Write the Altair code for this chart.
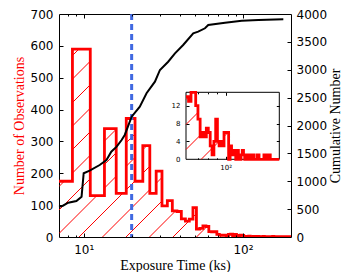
import numpy as np
import pandas as pd
import altair as alt

# ---------------- data ----------------
BIN_START = 6.0          # main histogram: bins of 2.5 ks
BIN_WIDTH = 2.5
COUNTS = [175, 590, 130, 340, 137, 372, 175, 287, 137, 207, 98, 114, 82, 80,
          57, 50, 56, 92, 25, 27, 35, 33, 17, 16, 17, 8, 6, 5, 6, 4, 8, 9, 4,
          8, 5, 3, 6, 5,
          2, 1, 2, 3, 1, 1, 2, 0, 1, 2, 1, 1, 0, 2, 1, 1, 0, 1, 1, 0, 1, 2,
          0, 1, 1, 0, 1, 0, 1, 1, 0, 1, 0, 0, 1, 1, 0, 1, 0, 1]

INSET_BIN_START = 60.0   # inset histogram: bins of 2 ks
INSET_BIN_WIDTH = 2.0
INSET_COUNTS = [14, 13, 15, 15, 12, 9, 5, 6, 5, 7, 6, 3, 1, 4, 9, 4, 3, 4, 3,
                6, 6, 6, 0, 3, 1, 2, 1, 0, 2, 1, 0, 1, 2, 1, 0, 1, 0, 1, 1, 0,
                0, 1, 0, 0, 0, 1, 1, 0, 0, 0, 0, 0, 1, 0, 1, 1, 1, 0, 1, 0, 0,
                0, 0, 0, 0, 0, 0, 0, 0, 0]

CUM_EXPOSURE = [7.0, 7.4, 8.0, 9.0, 9.7, 10.0, 10.9, 12.6, 13.9, 14.9, 16.1,
                17.3, 18.1, 20.0, 22.5, 24.8, 28.0, 30.1, 33.9, 37.4, 42.1,
                48.7, 52.3, 57.7, 60.5, 77.1, 98.2, 124.8, 179.0]
CUM_NUMBER = [543, 561, 615, 646, 723, 1143, 1189, 1291, 1381, 1530, 1620,
              1740, 1830, 2158, 2337, 2578, 2786, 2996, 3144, 3295, 3444,
              3654, 3683, 3744, 3803, 3844, 3880, 3892, 3905]

THRESHOLD_KS = [20]

X_MAJOR = [10, 100]
X_MINOR = [8, 9, 20, 30, 40, 50, 60, 70, 80, 90]
Y_TICKS = [0, 100, 200, 300, 400, 500, 600, 700]
CUM_TICKS = [0, 500, 1000, 1500, 2000, 2500, 3000, 3500, 4000]
INSET_Y_TICKS = [0, 4, 8, 12]
INSET_X_MAJOR = [100]
INSET_X_MINOR = [70, 80, 90]

# ---------------- layout / style ----------------
RED = "#ff0000"
BLUE = "#4169e1"
W, H = 232, 223
XDOM = [7, 200]
YDOM = [0, 700]
CDOM = [0, 4000]
IN_XDOM = [60, 200]
IN_YDOM = [0, 15]
IN_U = [127.0, 220.3]   # inset left/right (px within plot)
IN_V = [78.3, 145.3]    # inset top/bottom (px within plot)
MAJ, MIN = 4, 2

edges = [BIN_START + BIN_WIDTH * i for i in range(len(COUNTS) + 1)]
in_edges = [INSET_BIN_START + INSET_BIN_WIDTH * i for i in range(len(INSET_COUNTS) + 1)]


def step_df(e, c, cap=None):
    ys = list(c) + [c[-1]]
    if cap is not None:
        ys = [min(v, cap) for v in ys]
    return pd.DataFrame({"x": e, "y": ys})


def hatch(e, c, xdom, ydom, urange, vrange, spacing, phase):
    """Diagonal hatch lines clipped to the area under the step outline.
    Pieces of one hatch line in adjacent bars are merged into one segment."""
    lx0, lx1 = np.log10(xdom[0]), np.log10(xdom[1])
    vt0, vb = vrange

    def u_of(x):
        return urange[0] + (np.log10(x) - lx0) / (lx1 - lx0) * (urange[1] - urange[0])

    def x_of(u):
        return round(float(10 ** (lx0 + (u - urange[0]) / (urange[1] - urange[0]) * (lx1 - lx0))), 5)

    def v_of(y):
        return vb - (y - ydom[0]) / (ydom[1] - ydom[0]) * (vb - vt0)

    def y_of(v):
        return round(max(float(ydom[0] + (vb - v) / (vb - vt0) * (ydom[1] - ydom[0])), ydom[0]), 5)

    pieces = {}
    for e0, e1, cnt in zip(e[:-1], e[1:], c):
        if cnt <= 0:
            continue
        u0 = max(u_of(e0), urange[0])
        u1 = min(u_of(e1), urange[1])
        if u1 <= u0:
            continue
        vt = max(v_of(min(cnt, ydom[1])), vt0)
        k0 = int(np.ceil((u0 + vt - phase) / spacing))
        k1 = int(np.floor((u1 + vb - phase) / spacing))
        for k in range(k0, k1 + 1):
            cc = phase + k * spacing
            ua = max(u0, cc - vb)
            ub = min(u1, cc - vt)
            if ub - ua > 0.05:
                pieces.setdefault(k, []).append([ua, ub])

    rows = []
    for k, segs in pieces.items():
        cc = phase + k * spacing
        segs.sort()
        merged = [segs[0]]
        for a, b in segs[1:]:
            if a - merged[-1][1] < 1e-6:
                merged[-1][1] = max(merged[-1][1], b)
            else:
                merged.append([a, b])
        for a, b in merged:
            rows.append({"hx": x_of(a), "hy": y_of(cc - a),
                         "hx2": x_of(b), "hy2": y_of(cc - b)})
    return pd.DataFrame(rows)


def sx():
    return alt.Scale(type="log", domain=XDOM)


def sy():
    return alt.Scale(domain=YDOM)


def sc():
    return alt.Scale(domain=CDOM)


def isx():
    return alt.Scale(type="log", domain=IN_XDOM, range=IN_U)


def isy():
    return alt.Scale(domain=IN_YDOM, range=[IN_V[1], IN_V[0]])


def tick_axis(orient, values, offset, size):
    return alt.Axis(orient=orient, values=values, offset=offset, tickSize=size,
                    ticks=True, labels=False, domain=False, grid=False,
                    title=None, tickColor="black", tickWidth=1, zindex=1)


def xdummy(values, scale, axis):
    return alt.Chart(pd.DataFrame({"v": values})).mark_rule(opacity=0).encode(
        x=alt.X("v:Q", scale=scale, axis=axis))


def ydummy(values, scale, axis):
    return alt.Chart(pd.DataFrame({"v": values})).mark_rule(opacity=0).encode(
        y=alt.Y("v:Q", scale=scale, axis=axis))


def hatch_layer(df, xs, ys):
    return alt.Chart(df).mark_rule(strokeWidth=1, clip=True).encode(
        x=alt.X("hx:Q", scale=xs, axis=None), x2="hx2:Q",
        y=alt.Y("hy:Q", scale=ys, axis=None), y2="hy2:Q",
        stroke=alt.value(RED),
    )


# ---------------- main plot ----------------
hist = alt.Chart(step_df(edges, COUNTS)).mark_line(
    interpolate="step-after", color=RED, strokeWidth=2.8, clip=True
).encode(
    x=alt.X("x:Q", scale=sx(), axis=None),
    y=alt.Y("y:Q", scale=sy(), axis=None),
)

hatch_main = hatch_layer(hatch(edges, COUNTS, XDOM, YDOM, [0, W], [0, H], 23.5, 8), sx(), sy())

thresh = alt.Chart(pd.DataFrame({"x": THRESHOLD_KS})).mark_rule(
    color=BLUE, strokeWidth=3, strokeDash=[6, 4]
).encode(x=alt.X("x:Q", scale=sx(), axis=None))

cum = alt.Chart(pd.DataFrame({"x": CUM_EXPOSURE, "y": CUM_NUMBER})).mark_line(
    color="black", strokeWidth=2
).encode(
    x=alt.X("x:Q", scale=sx(), axis=None),
    y=alt.Y("y:Q", scale=sc(), axis=None),
)

x_label_axis = xdummy(X_MAJOR, sx(), alt.Axis(
    orient="bottom", values=X_MAJOR,
    labelExpr="datum.value == 10 ? '10¹' : '10²'",
    tickSize=0, ticks=False, labelPadding=7, domain=False, grid=False,
    title="Exposure Time (ks)", titleX=W / 2, titleY=32, titleAlign="center",
    titleBaseline="alphabetic", titleAngle=0))

y_label_axis = ydummy(Y_TICKS, sy(), alt.Axis(
    orient="left", values=Y_TICKS, tickSize=0, ticks=False, labelPadding=6,
    domain=False, grid=False, title="Number of Observations", titleColor=RED,
    titleAngle=270, titleX=-35.5, titleY=H / 2, titleAlign="center",
    titleBaseline="alphabetic"))

c_label_axis = ydummy(CUM_TICKS, sc(), alt.Axis(
    orient="right", values=CUM_TICKS, format="d", tickSize=0, ticks=False,
    labelPadding=5, domain=False, grid=False, title="Cumulative Number",
    titleAngle=270, titleX=48.5, titleY=H / 2, titleAlign="center",
    titleBaseline="alphabetic"))

main_layers = [
    hatch_main, hist, thresh, cum,
    x_label_axis, y_label_axis, c_label_axis,
    xdummy(X_MAJOR, sx(), tick_axis("bottom", X_MAJOR, -MAJ, MAJ)),
    xdummy(X_MINOR, sx(), tick_axis("bottom", X_MINOR, -MIN, MIN)),
    xdummy(X_MAJOR, sx(), tick_axis("top", X_MAJOR, -MAJ, MAJ)),
    xdummy(X_MINOR, sx(), tick_axis("top", X_MINOR, -MIN, MIN)),
    ydummy(Y_TICKS[1:-1], sy(), tick_axis("left", Y_TICKS[1:-1], -MAJ, MAJ)),
    ydummy(CUM_TICKS[1:-1], sc(), tick_axis("right", CUM_TICKS[1:-1], -MAJ, MAJ)),
]

# ---------------- inset ----------------
IMAJ, IMIN = 3, 1.5
irect = alt.Chart(pd.DataFrame({"x": [IN_XDOM[0]], "x2": [IN_XDOM[1]],
                                "y": [IN_YDOM[0]], "y2": [IN_YDOM[1]]})).mark_rect(
    fill="white", stroke="black", strokeWidth=1
).encode(
    x=alt.X("x:Q", scale=isx(), axis=None), x2="x2",
    y=alt.Y("y:Q", scale=isy(), axis=None), y2="y2",
)
ihist = alt.Chart(step_df(in_edges, INSET_COUNTS, cap=IN_YDOM[1])).mark_line(
    interpolate="step-after", color=RED, strokeWidth=2.8
).encode(
    x=alt.X("x:Q", scale=isx(), axis=None),
    y=alt.Y("y:Q", scale=isy(), axis=None),
)
ihatch = hatch_layer(hatch(in_edges, INSET_COUNTS, IN_XDOM, IN_YDOM, IN_U, IN_V, 25, 12.5), isx(), isy())

ib = IN_V[1] - H
it = -IN_V[0]
il = -IN_U[0]
ir = -(W - IN_U[1])
inset_layers = [
    irect, ihatch, ihist,
    xdummy(INSET_X_MAJOR, isx(), alt.Axis(
        orient="bottom", values=INSET_X_MAJOR, labelExpr="'10²'", offset=ib,
        tickSize=0, ticks=False, labelPadding=4, labelFontSize=7, domain=False,
        grid=False, title=None, zindex=1)),
    ydummy(INSET_Y_TICKS, isy(), alt.Axis(
        orient="left", values=INSET_Y_TICKS, offset=il, tickSize=0, ticks=False,
        labelPadding=6, labelFontSize=7, domain=False, grid=False, title=None,
        zindex=1)),
    xdummy(INSET_X_MAJOR, isx(), tick_axis("bottom", INSET_X_MAJOR, ib - IMAJ, IMAJ)),
    xdummy(INSET_X_MINOR, isx(), tick_axis("bottom", INSET_X_MINOR, ib - IMIN, IMIN)),
    xdummy(INSET_X_MAJOR, isx(), tick_axis("top", INSET_X_MAJOR, it - IMAJ, IMAJ)),
    xdummy(INSET_X_MINOR, isx(), tick_axis("top", INSET_X_MINOR, it - IMIN, IMIN)),
    ydummy(INSET_Y_TICKS[1:], isy(), tick_axis("left", INSET_Y_TICKS[1:], il - IMAJ, IMAJ)),
    ydummy(INSET_Y_TICKS[1:], isy(), tick_axis("right", INSET_Y_TICKS[1:], ir - IMAJ, IMAJ)),
]

chart = alt.layer(*main_layers, *inset_layers).resolve_scale(
    x="independent", y="independent"
).properties(
    width=W, height=H,
    autosize=alt.AutoSizeParams(type="none"),
    padding={"left": 51, "top": 6, "right": 51, "bottom": 35},
    background="white",
).configure_view(
    stroke="black", strokeWidth=1
).configure_axis(
    labelFont="DejaVu Sans", labelFontSize=12, labelColor="black",
    titleFont="Liberation Serif", titleFontSize=14, titleFontWeight="normal",
    titleColor="black", tickColor="black",
)

chart.save("out.html", embed_options={"renderer": "svg", "actions": False})
